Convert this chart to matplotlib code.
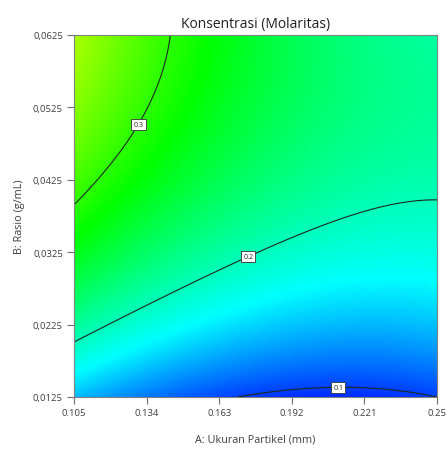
import numpy as np
import matplotlib
matplotlib.use("Agg")
import matplotlib.pyplot as plt
from matplotlib.colors import LinearSegmentedColormap

plt.rcParams["font.family"] = ["Open Sans", "DejaVu Sans"]

# factor ranges (actual units)
a_range = [0.105, 0.25]      # A: Ukuran Partikel (mm)
b_range = [0.0125, 0.0625]   # B: Rasio (g/mL)

# quadratic model in coded units: b0, A, B, AB, A^2, B^2
coef_names = ["b0", "A", "B", "AB", "A2", "B2"]
coef_vals = [0.2184, -0.0491, 0.0809, -0.0256, 0.0261, -0.0401]

contour_levels = [0.1, 0.2, 0.3]
label_pos = [(0.2105, 0.0147), (0.1725, 0.0335), (0.1278, 0.0508)]

x_ticks = [0.105, 0.134, 0.163, 0.192, 0.221, 0.25]
x_ticklabels = ["0.105", "0.134", "0.163", "0.192", "0.221", "0.25"]
y_ticks = [0.0125, 0.0225, 0.0325, 0.0425, 0.0525, 0.0625]
y_ticklabels = ["0,0125", "0,0225", "0,0325", "0,0425", "0,0525", "0,0625"]

# surface grid
A = np.linspace(a_range[0], a_range[1], 300)
B = np.linspace(b_range[0], b_range[1], 300)
AA, BB = np.meshgrid(A, B)
a = (AA - np.mean(a_range)) / (np.diff(a_range)[0] / 2)
b = (BB - np.mean(b_range)) / (np.diff(b_range)[0] / 2)
c = dict(zip(coef_names, coef_vals))
Z = (c["b0"] + c["A"] * a + c["B"] * b + c["AB"] * a * b
     + c["A2"] * a ** 2 + c["B2"] * b ** 2)

# blue -> cyan -> green -> yellow -> red colour scale
vmin, vmax = 0.075, 0.52
stops = [0.075, 0.17, 0.28, 0.40, 0.52]
cols = ["#0000ff", "#00ffff", "#00ff00", "#ffff00", "#ff0000"]
cmap = LinearSegmentedColormap.from_list(
    "de", [((s - vmin) / (vmax - vmin), col) for s, col in zip(stops, cols)])

fig = plt.figure(figsize=(4.46, 4.52), dpi=100)
ax = fig.add_axes([74 / 446, 1 - 398 / 452, 363 / 446, 362 / 452])

ax.imshow(Z, origin="lower", extent=[*a_range, *b_range], aspect="auto",
          cmap=cmap, vmin=vmin, vmax=vmax, interpolation="bilinear")
cs = ax.contour(AA, BB, Z, levels=contour_levels, colors="#1c2a1c", linewidths=0.8)
labels = ax.clabel(cs, fmt="%.1f", inline=False, fontsize=5, manual=label_pos)
for t in labels:
    t.set_rotation(0)
    t.set_bbox(dict(boxstyle="square,pad=0.3", fc="white", ec="#333333", lw=0.6))
    t.set_zorder(5)

ax.set_xlim(a_range)
ax.set_ylim(b_range)
ax.set_xticks(x_ticks)
ax.set_xticklabels(x_ticklabels)
ax.set_yticks(y_ticks)
ax.set_yticklabels(y_ticklabels)
ax.tick_params(direction="out", length=5, width=0.8, color="#707070",
               labelsize=6.8, labelcolor="#404040", pad=3)
for s in ax.spines.values():
    s.set_color("#808080")
    s.set_linewidth(0.8)

ax.set_title("Konsentrasi (Molaritas)", fontsize=10, color="#202020", pad=6)
ax.set_xlabel("A: Ukuran Partikel (mm)", fontsize=7.8, color="#404040", labelpad=12)
ax.set_ylabel("B: Rasio (g/mL)", fontsize=7.8, color="#404040", labelpad=6)

fig.savefig("out.png", dpi=100)
